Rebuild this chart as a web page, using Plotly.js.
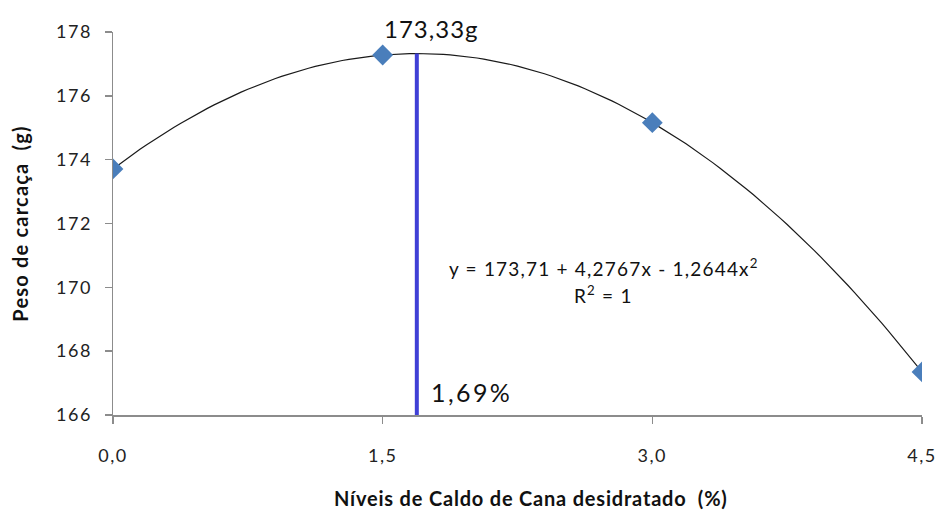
<!DOCTYPE html>
<html>
<head>
<meta charset="utf-8">
<script src="https://cdn.plot.ly/plotly-3.0.1.min.js"></script>
<style>
  html, body { margin: 0; padding: 0; background: #fff; }
  #chart { width: 938px; height: 515px; }
</style>
</head>
<body>
<div id="chart"></div>
<script>
// Carcass weight by level of dehydrated sugar-cane juice
var levels = [0.0, 1.5, 3.0, 4.5];
var weights = [173.71, 177.28, 175.16, 167.35];

// Quadratic regression: y = b0 + b1*x + b2*x^2
var coefs = [173.71, 4.2767, -1.2644];

// Optimum level and the weight at that level
var optimumX = [1.69];
var optimumY = [177.33];

var xTickVals = [0, 1.5, 3.0, 4.5];
var xTickText = ['0,0', '1,5', '3,0', '4,5'];
var yTickVals = [166, 168, 170, 172, 174, 176, 178];
var yTickText = ['166', '168', '170', '172', '174', '176', '178'];

// Sample the fitted curve over the observed range
var fitX = [], fitY = [];
var n = 120;
for (var i = 0; i <= n; i++) {
  var x = levels[0] + (levels[levels.length - 1] - levels[0]) * i / n;
  fitX.push(x);
  fitY.push(coefs[0] + coefs[1] * x + coefs[2] * x * x);
}

// Slightly tracked text, to get the wide look of the labels
function spaced(t, px) {
  return '<span style="letter-spacing:' + px + 'px">' + t + '</span>';
}

var font = 'Lato, "Open Sans", "DejaVu Sans", sans-serif';

var traces = [
  {
    x: fitX, y: fitY, mode: 'lines', type: 'scatter',
    line: { color: '#1a1a1a', width: 1.2 },
    hoverinfo: 'skip'
  },
  {
    x: [optimumX[0], optimumX[0]], y: [166, optimumY[0]],
    mode: 'lines', type: 'scatter',
    line: { color: '#4040d6', width: 4 },
    hoverinfo: 'skip'
  },
  {
    x: levels, y: weights, mode: 'markers', type: 'scatter',
    marker: { symbol: 'diamond', size: 16, color: '#4a7ebb' }
  }
];

var layout = {
  width: 938, height: 515,
  margin: { l: 113, r: 16, t: 32, b: 100 },
  paper_bgcolor: '#fff', plot_bgcolor: '#fff',
  showlegend: false,
  font: { family: font, color: '#222' },
  xaxis: {
    range: [0, 4.5],
    tickvals: xTickVals,
    ticktext: xTickText.map(function (t) { return spaced(t, 1.5); }),
    showgrid: false, zeroline: false,
    showline: true, linecolor: '#8c8c8c', linewidth: 1.5,
    ticks: 'outside', ticklen: 7, tickcolor: '#8c8c8c', tickwidth: 1.5,
    ticklabelstandoff: 17,
    tickfont: { size: 18, color: '#222' }
  },
  yaxis: {
    range: [166, 178],
    tickvals: yTickVals,
    ticktext: yTickText.map(function (t) { return spaced(t, 1.5); }),
    showgrid: false, zeroline: false,
    showline: true, linecolor: '#8c8c8c', linewidth: 1.5,
    ticks: 'outside', ticklen: 7, tickcolor: '#8c8c8c', tickwidth: 1.5,
    ticklabelstandoff: 9,
    tickfont: { size: 18, color: '#222' },
    title: {
      text: '<b>' + spaced('Peso de carcaça  (g)', 1.2) + '</b>',
      font: { size: 20, color: '#111' }, standoff: 22
    }
  },
  annotations: [
    {
      // x-axis title
      x: 0.5167, y: -0.2167, xref: 'paper', yref: 'paper',
      text: '<b>' + spaced('Níveis de Caldo de Cana desidratado  (%)', 0.8) + '</b>',
      showarrow: false, xanchor: 'center', yanchor: 'middle',
      font: { size: 20, color: '#111' }
    },
    {
      x: optimumX[0], y: 178, xref: 'x', yref: 'y',
      text: spaced('173,33g', 1), showarrow: false,
      xanchor: 'center', yanchor: 'middle', xshift: 15, yshift: 4,
      font: { size: 24, color: '#111' }
    },
    {
      x: optimumX[0], y: 166, xref: 'x', yref: 'y',
      text: spaced('1,69%', 2.4), showarrow: false,
      xanchor: 'left', yanchor: 'bottom', xshift: 12, yshift: 6,
      font: { size: 25, color: '#111' }
    },
    {
      x: 2.73, y: 170.61, xref: 'x', yref: 'y',
      text: spaced('y = 173,71 + 4,2767x - 1,2644x<sup>2</sup>', 1.2),
      showarrow: false, xanchor: 'center', yanchor: 'middle',
      font: { size: 19, color: '#111' }
    },
    {
      x: 2.73, y: 169.76, xref: 'x', yref: 'y',
      text: spaced('R<sup>2</sup> = 1', 1.2),
      showarrow: false, xanchor: 'center', yanchor: 'middle',
      font: { size: 19, color: '#111' }
    }
  ]
};

Plotly.newPlot('chart', traces, layout, { displayModeBar: false, staticPlot: true });
</script>
</body>
</html>
